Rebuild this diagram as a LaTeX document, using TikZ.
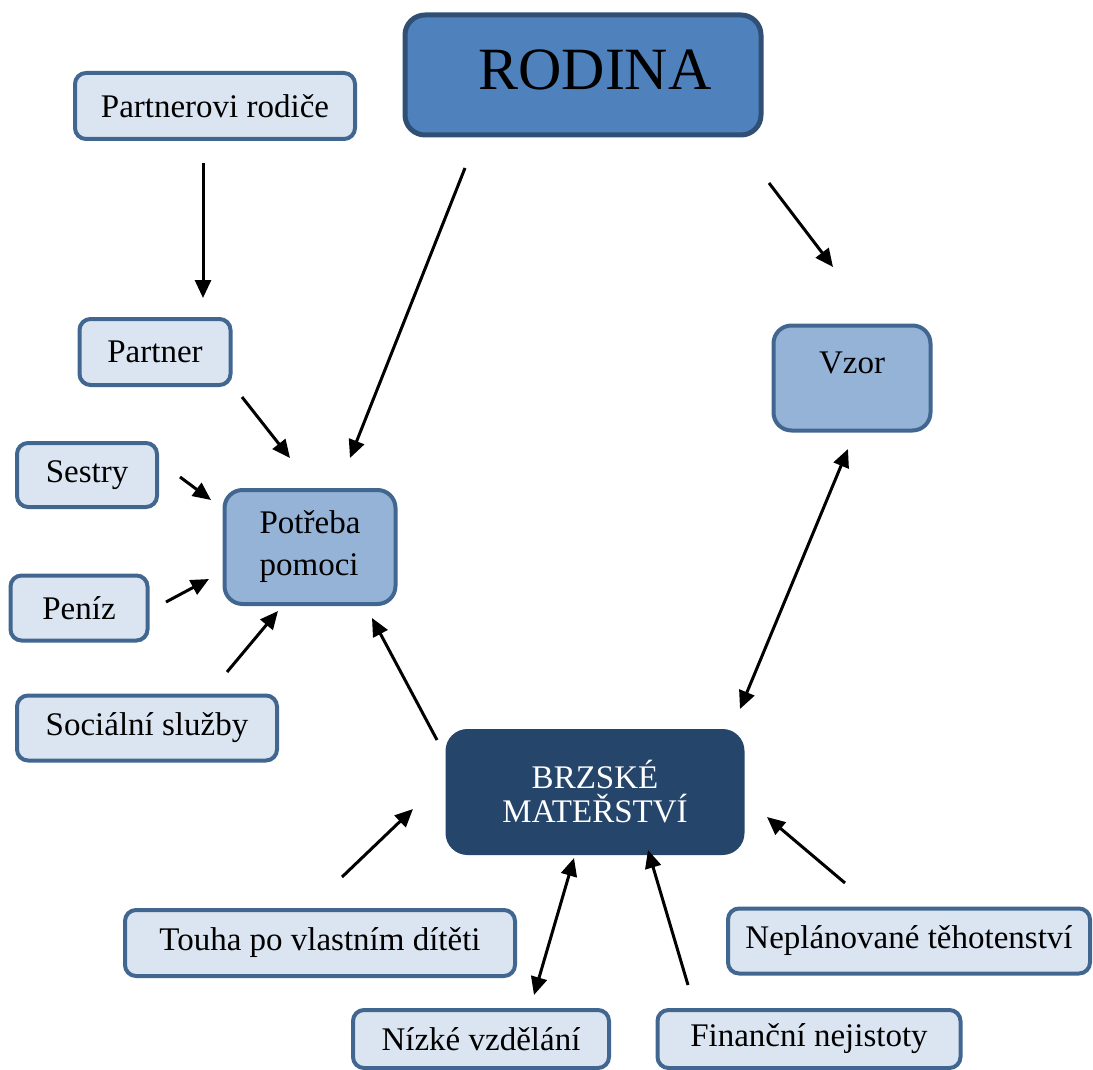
\documentclass[tikz,border=0pt]{standalone}
\usepackage{fontspec}
\setmainfont{Liberation Serif}
\usetikzlibrary{arrows.meta}

\definecolor{lightfill}{HTML}{DBE5F1}
\definecolor{midfill}{HTML}{95B3D7}
\definecolor{topfill}{HTML}{4F81BD}
\definecolor{darkfill}{HTML}{26456B}
\definecolor{boxline}{HTML}{41668F}
\definecolor{topline}{HTML}{2F4F75}

\tikzset{
    box/.style={draw=boxline, line width=2pt, rounded corners=5.5pt, inner sep=0pt, font=\fontsize{16.5}{19}\selectfont},
    lightbox/.style={box, fill=lightfill},
    midbox/.style={box, fill=midfill, rounded corners=9pt},
    topbox/.style={box, fill=topfill, draw=topline, line width=2.5pt, rounded corners=10pt, font=\fontsize{30}{34}\selectfont},
    darkbox/.style={box, fill=darkfill, draw=darkfill, rounded corners=10pt, text=white},
    arr/.style={line width=1.5pt, -{Triangle[length=9pt,width=8pt]}},
    dblarr/.style={line width=1.5pt, {Triangle[length=9pt,width=8pt]}-{Triangle[length=9pt,width=8pt]}}
}

\begin{document}
\begin{tikzpicture}[x=0.5pt, y=-0.5pt]
    \useasboundingbox (0,0) rectangle (1093,1070);

    % boxes
    \node[topbox, minimum width=178pt, minimum height=60pt] (rodina) at (583,75) {\hspace{12pt}\raisebox{5pt}{RODINA}};
    \node[lightbox, minimum width=140pt, minimum height=33pt] (rodice) at (215,106) {\raisebox{-2pt}{Partnerovi rodiče}};
    \node[lightbox, minimum width=75.5pt, minimum height=33pt] (partner) at (155,352) {\raisebox{-2pt}{Partner}};
    \node[lightbox, minimum width=70pt, minimum height=32pt] (sestry) at (87,475) {\raisebox{-2pt}{Sestry}};
    \node[midbox, minimum width=85.5pt, minimum height=57pt, align=left, font=\fontsize{16.5}{21}\selectfont] (potreba) at (310,547) {Potřeba\\pomoci};
    \node[lightbox, minimum width=68.5pt, minimum height=32.5pt] (peniz) at (79,608) {\raisebox{-2pt}{Peníz}};
    \node[lightbox, minimum width=130pt, minimum height=32.5pt] (socialni) at (147,728) {\raisebox{-2pt}{Sociální služby}};
    \node[midbox, minimum width=78.5pt, minimum height=52.5pt] (vzor) at (852,378) {\raisebox{15pt}{Vzor}};
    \node[darkbox, minimum width=147.5pt, minimum height=61pt, align=center, font=\fontsize{16.5}{17}\selectfont] (brzske) at (595,792) {BRZSKÉ\\MATEŘSTVÍ};
    \node[lightbox, minimum width=195pt, minimum height=33pt] (touha) at (320,943) {\raisebox{-2pt}{Touha po vlastním dítěti}};
    \node[lightbox, minimum width=181pt, minimum height=32.5pt] (neplan) at (909,941) {\raisebox{-2pt}{Neplánované těhotenství}};
    \node[lightbox, minimum width=128pt, minimum height=29pt] (nizke) at (481,1039) {\raisebox{-3pt}{Nízké vzdělání}};
    \node[lightbox, minimum width=151.5pt, minimum height=29pt] (financni) at (809,1039) {\raisebox{-3pt}{Finanční nejistoty}};

    % arrow ends
    \coordinate (fromRodice) at (203,163);   \coordinate (toPartner) at (203,298);
    \coordinate (fromPartner) at (242,397);  \coordinate (toPotrebaA) at (290,458);
    \coordinate (fromRodinaA) at (465,168);  \coordinate (toPotrebaB) at (350,458);
    \coordinate (fromRodinaB) at (769,183);  \coordinate (toVzor) at (833,267);
    \coordinate (fromSestry) at (180,477);   \coordinate (toPotrebaC) at (211,500);
    \coordinate (fromPeniz) at (166,602);    \coordinate (toPotrebaD) at (209,579);
    \coordinate (fromSocialni) at (227,672); \coordinate (toPotrebaE) at (278,611);
    \coordinate (fromBrzske) at (437,740);   \coordinate (toPotrebaF) at (372,618);
    \coordinate (vzorEnd) at (848,449);      \coordinate (brzskeEnd) at (740,709);
    \coordinate (fromTouha) at (342,877);    \coordinate (toBrzskeA) at (413,809);
    \coordinate (nizkeEnd) at (534,995);     \coordinate (toBrzskeB) at (574,858);
    \coordinate (fromFinancni) at (688,985); \coordinate (toBrzskeC) at (648,850);
    \coordinate (fromNeplan) at (845,883);   \coordinate (toBrzskeD) at (767,817);

    % connectors
    \draw[arr] (fromRodice) -- (toPartner);
    \draw[arr] (fromPartner) -- (toPotrebaA);
    \draw[arr] (fromRodinaA) -- (toPotrebaB);
    \draw[arr] (fromRodinaB) -- (toVzor);
    \draw[arr] (fromSestry) -- (toPotrebaC);
    \draw[arr] (fromPeniz) -- (toPotrebaD);
    \draw[arr] (fromSocialni) -- (toPotrebaE);
    \draw[arr] (fromBrzske) -- (toPotrebaF);
    \draw[dblarr] (vzorEnd) -- (brzskeEnd);
    \draw[arr] (fromTouha) -- (toBrzskeA);
    \draw[dblarr] (nizkeEnd) -- (toBrzskeB);
    \draw[arr] (fromFinancni) -- (toBrzskeC);
    \draw[arr] (fromNeplan) -- (toBrzskeD);
\end{tikzpicture}
\end{document}
